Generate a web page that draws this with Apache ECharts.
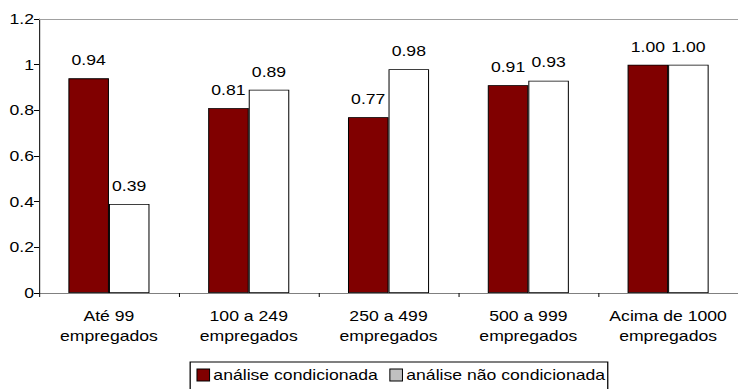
<!DOCTYPE html>
<html>
<head>
<meta charset="utf-8">
<script src="https://cdn.jsdelivr.net/npm/echarts@6/dist/echarts.min.js"></script>
<style>
  html, body { margin: 0; padding: 0; background: #fff; overflow: hidden; }
  #frame { width: 738px; height: 389px; overflow: hidden; }
  /* the chart is laid out narrower and widened horizontally, giving the wide lettering */
  #chart { width: 586px; height: 389px; transform: scaleX(1.2594); transform-origin: 0 0; }
</style>
</head>
<body>
<div id="frame"><div id="chart"></div></div>
<script>
// Company-size groups and the two analysis series
const categories = ['Até 99\nempregados', '100 a 249\nempregados', '250 a 499\nempregados', '500 a 999\nempregados', 'Acima de 1000\nempregados'];
const condicionada = [0.94, 0.81, 0.77, 0.91, 1.00];
const naoCondicionada = [0.39, 0.89, 0.98, 0.93, 1.00];
const seriesNames = ['análise condicionada', 'análise não condicionada'];

const FONT = 'Liberation Sans, Arial, sans-serif';
const chart = echarts.init(document.getElementById('chart'), null, { renderer: 'svg' });

const labelCfg = {
  show: true,
  position: 'top',
  distance: 11,
  color: '#000',
  fontFamily: FONT,
  fontSize: 14,
  formatter: p => p.value.toFixed(2)
};

chart.setOption({
  animation: false,
  backgroundColor: '#fff',
  textStyle: { fontFamily: FONT },
  grid: { left: 31, right: 0, top: 19, bottom: 96, containLabel: false },
  legend: {
    left: 151,
    top: 362,
    padding: [6, 2, 10, 5],
    borderColor: '#000',
    borderWidth: 1,
    itemWidth: 10,
    itemHeight: 12,
    itemGap: 9,
    icon: 'rect',
    textStyle: { fontFamily: FONT, fontSize: 14, color: '#000', padding: [0, 0, 0, -2] },
    data: [
      { name: seriesNames[0], itemStyle: { color: '#800000', borderColor: '#000', borderWidth: 0.8 } },
      { name: seriesNames[1], itemStyle: { color: '#c0c0c0', borderColor: '#000', borderWidth: 0.8 } }
    ]
  },
  xAxis: [
    {
      type: 'category',
      data: categories,
      axisLine: { lineStyle: { color: '#808080', width: 1 } },
      axisTick: { show: true, alignWithLabel: false, length: 4, lineStyle: { color: '#000', width: 0.8 } },
      axisLabel: { color: '#000', fontFamily: FONT, fontSize: 14, lineHeight: 20, margin: 13, interval: 0 }
    },
    {
      type: 'category',
      position: 'top',
      data: categories,
      axisLine: { lineStyle: { color: '#a0a0a0', width: 1 } },
      axisTick: { show: false },
      axisLabel: { show: false }
    }
  ],
  yAxis: {
    type: 'value',
    min: 0,
    max: 1.2,
    interval: 0.2,
    axisLine: { show: true, lineStyle: { color: '#000', width: 0.8 } },
    axisTick: { show: true, length: 4, lineStyle: { color: '#000', width: 1 } },
    splitLine: { show: false },
    axisLabel: { color: '#000', fontFamily: FONT, fontSize: 14, margin: 4, formatter: v => String(+v.toFixed(1)) }
  },
  series: [
    {
      name: seriesNames[0],
      type: 'bar',
      data: condicionada,
      barGap: '0%',
      barCategoryGap: '42%',
      itemStyle: { color: '#800000', borderColor: '#000', borderWidth: 0.8 },
      label: labelCfg
    },
    {
      name: seriesNames[1],
      type: 'bar',
      data: naoCondicionada,
      barGap: '0%',
      barCategoryGap: '42%',
      itemStyle: { color: '#ffffff', borderColor: '#000', borderWidth: 0.8 },
      label: labelCfg
    }
  ]
});
</script>
</body>
</html>
